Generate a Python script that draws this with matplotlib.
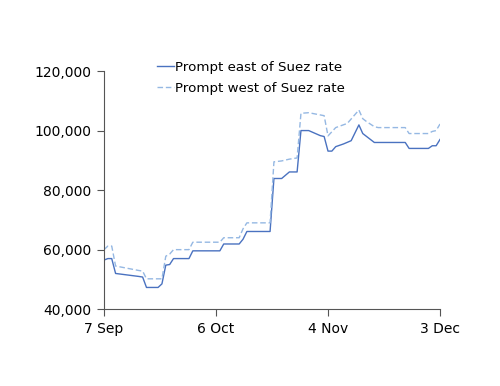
import matplotlib
matplotlib.use("Agg")
import matplotlib.pyplot as plt
import matplotlib.ticker as mticker
import pandas as pd

# key points: days after 7 Sep, rate
start = pd.Timestamp("2012-09-07")

east_days = [0, 1, 2, 3, 9, 10, 11, 14, 15, 16, 17, 18, 22, 23, 30, 31, 35, 36, 37,
             43, 44, 46, 47, 48, 50, 51, 53, 56, 57, 58, 59, 60, 62, 64, 66, 67, 70,
             78, 79, 84, 85, 86, 87]
east_vals = [56500, 57000, 57000, 52000, 51000, 50800, 47300, 47300, 48500, 54800,
             55000, 57000, 57000, 59600, 59600, 61900, 61900, 63500, 66100,
             66100, 83900, 83900, 85000, 86100, 86100, 100000, 100000, 98300, 98000,
             93100, 93100, 94600, 95500, 96600, 101900, 99000, 96000,
             96000, 94000, 94000, 94900, 94900, 97000]

west_days = [0, 1, 2, 3, 9, 10, 11, 15, 16, 17, 18, 22, 23, 30, 31, 35, 36, 37,
             43, 44, 46, 48, 50, 51, 53, 57, 58, 60, 63, 66, 67, 68, 70, 71,
             78, 79, 84, 85, 86, 87]
west_vals = [60000, 61200, 61200, 54500, 53000, 52800, 50200, 50200, 57800, 58500,
             60000, 60000, 62500, 62500, 64000, 64000, 67000, 69000,
             69000, 89500, 89800, 90400, 90800, 105800, 106000, 105000, 98200,
             101000, 102400, 106900, 104000, 103000, 101300, 101000,
             101000, 99000, 99000, 99700, 100000, 102200]

tick_days = [0, 29, 58, 87]
tick_labels = ["7 Sep", "6 Oct", "4 Nov", "3 Dec"]

east_dates = [start + pd.Timedelta(days=d) for d in east_days]
west_dates = [start + pd.Timedelta(days=d) for d in west_days]
tick_dates = [start + pd.Timedelta(days=d) for d in tick_days]

plt.rcParams["font.family"] = "DejaVu Sans"
fig = plt.figure(figsize=(5, 3.86), dpi=100)
ax = fig.add_axes([0.208, 0.199, 0.672, 0.617])

ax.plot(east_dates, east_vals, color="#4A72C0", lw=1.0,
        label="Prompt east of Suez rate")
ax.plot(west_dates, west_vals, color="#95B8E3", lw=1.0, linestyle=(0, (4, 2)),
        label="Prompt west of Suez rate")

ax.set_xlim(tick_dates[0], tick_dates[-1])
ax.set_ylim(40000, 120000)
ax.set_xticks(tick_dates)
ax.set_xticklabels(tick_labels)
ax.set_yticks([40000, 60000, 80000, 100000, 120000])
ax.yaxis.set_major_formatter(mticker.FuncFormatter(lambda v, p: f"{int(v):,}"))

for s in ["top", "right"]:
    ax.spines[s].set_visible(False)
for s in ["left", "bottom"]:
    ax.spines[s].set_color("#555555")
ax.tick_params(direction="out", length=5, color="#555555", labelsize=10,
               labelcolor="black", pad=4)

fig.legend(loc="upper left", bbox_to_anchor=(0.313, 0.843), frameon=False,
           fontsize=9.6, handlelength=1.3, handletextpad=0.1, labelspacing=0.6,
           borderpad=0, borderaxespad=0)

plt.savefig("out.png", dpi=100)
